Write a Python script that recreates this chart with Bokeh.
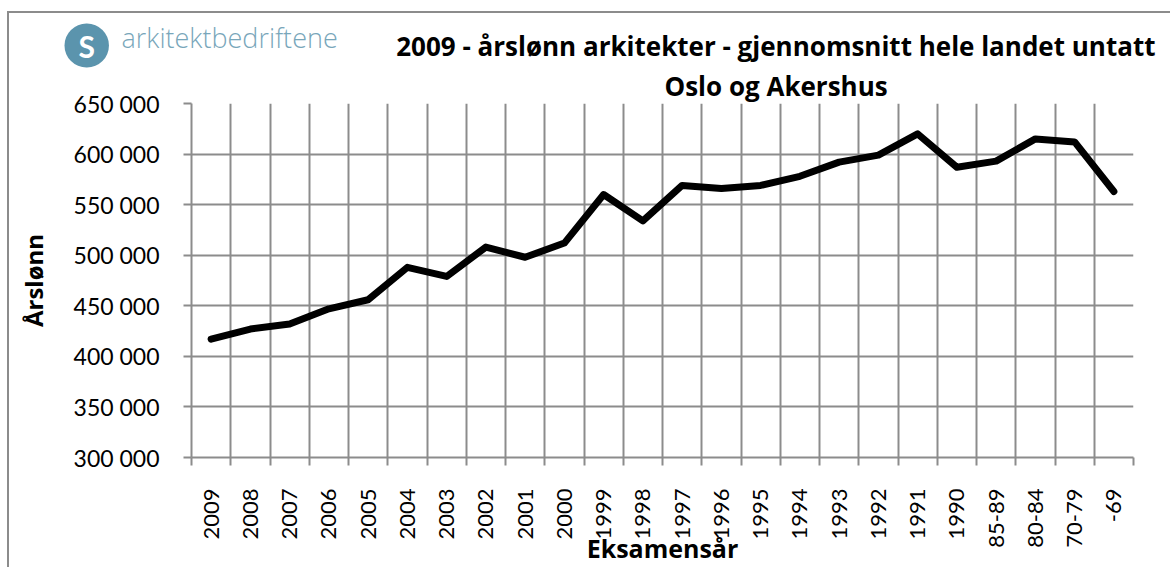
from math import pi
from bokeh.plotting import figure
from bokeh.models import Range1d, FixedTicker, Title, ColumnDataSource
from bokeh.embed import file_html
from bokeh.resources import INLINE

# ---- data ----
categories = ["2009", "2008", "2007", "2006", "2005", "2004", "2003", "2002", "2001", "2000",
              "1999", "1998", "1997", "1996", "1995", "1994", "1993", "1992", "1991", "1990",
              "85-89", "80-84", "70-79", "-69"]
salary = [417000, 427000, 432000, 447000, 456000, 488000, 479000, 508000, 498000, 512000,
          560000, 534000, 569000, 566000, 569000, 578000, 592000, 599000, 620000, 587000,
          593000, 615000, 612000, 563000]
y_ticks = [300000, 350000, 400000, 450000, 500000, 550000, 600000, 650000]
y_tick_labels = ["300 000", "350 000", "400 000", "450 000", "500 000", "550 000", "600 000", "650 000"]

title_line1 = "2009 - årslønn arkitekter - gjennomsnitt hele landet untatt"
title_line2 = "Oslo og Akershus"
x_title = "Eksamensår"
y_title = "Årslønn"
logo_text = "arkitektbedriftene"

W, H = 1170, 567
FONT = "Lato"
BOLD_FONT = "Open Sans"
GRID = "#8c8c8c"

n = len(categories)
xpos = [i + 0.5 for i in range(n)]
src = ColumnDataSource(dict(x=xpos, y=salary, cat=categories))

p = figure(width=W, height=H, output_backend="svg", toolbar_location=None,
           x_range=Range1d(0, n), y_range=Range1d(300000, 650000),
           min_border_left=191, min_border_right=37, min_border_top=103, min_border_bottom=110)
p.frame_width = 942
p.frame_height = 354
p.outline_line_color = None
p.background_fill_color = "white"
p.border_fill_alpha = 0
p.styles = {"background": "linear-gradient(#8c8c8c,#8c8c8c) 7px 11px / 2px 100% no-repeat, "
                          "linear-gradient(#8c8c8c,#8c8c8c) 7px 11px / 100% 2px no-repeat, white"}

p.line("x", "y", source=src, line_color="black", line_width=7,
       line_join="round", line_cap="round")

# x axis: labels at category centres, ticks at boundaries
xa = p.xaxis[0]
xa.ticker = FixedTicker(ticks=xpos, minor_ticks=list(range(n + 1)))
xa.major_label_overrides = {x: c for x, c in zip(xpos, categories)}
xa.major_label_orientation = pi / 2
xa.major_tick_out = 0
xa.major_tick_in = 0
xa.minor_tick_out = 8
xa.minor_tick_in = 0
xa.minor_tick_line_color = GRID
xa.minor_tick_line_width = 2
xa.axis_line_color = GRID
xa.axis_line_width = 2
xa.major_label_standoff = 23
xa.major_label_text_font = FONT
xa.major_label_text_font_size = "22px"
xa.major_label_text_color = "black"
xa.axis_label = x_title
xa.axis_label_text_font = BOLD_FONT
xa.axis_label_text_font_size = "25px"
xa.axis_label_text_font_style = "bold"
xa.axis_label_text_color = "black"
xa.axis_label_standoff = -20

ya = p.yaxis[0]
ya.ticker = FixedTicker(ticks=y_ticks)
ya.major_label_overrides = {v: t for v, t in zip(y_ticks, y_tick_labels)}
ya.major_tick_out = 8
ya.major_tick_in = 0
ya.major_tick_line_color = GRID
ya.major_tick_line_width = 2
ya.minor_tick_line_color = None
ya.axis_line_color = GRID
ya.axis_line_width = 2
ya.major_label_standoff = 24
ya.major_label_text_font = FONT
ya.major_label_text_font_size = "23px"
ya.major_label_text_color = "black"
ya.axis_label = y_title
ya.axis_label_text_font = BOLD_FONT
ya.axis_label_text_font_size = "24px"
ya.axis_label_text_font_style = "bold"
ya.axis_label_text_color = "black"
ya.axis_label_standoff = 21

p.xgrid.ticker = FixedTicker(ticks=list(range(n + 1)))
p.xgrid.grid_line_color = GRID
p.xgrid.grid_line_width = 2
p.ygrid.grid_line_color = GRID
p.ygrid.grid_line_width = 2

# ---- heading rows, stacked from the frame upwards ----
def heading(text, size, align, offset, standoff, pad, bold=True, color="black", font=BOLD_FONT, **kw):
    p.add_layout(Title(text=text, text_font=font, text_font_size=size,
                       text_font_style="bold" if bold else "normal", text_color=color,
                       align=align, offset=offset, vertical_align="middle",
                       standoff=standoff, padding=pad, **kw), "above")

heading(title_line2, "26px", "left", 473, -3, dict(left=0, right=0, top=22, bottom=0))
heading(title_line1, "26px", "right", -22, -37, 0)
heading("S", "30px", "left", -127, -46, (14, 4), color="white", font=FONT,
        background_fill_color="#5b94ad", border_radius=22)
heading(logo_text, "27px", "left", -70, -48, dict(left=0, right=0, top=0, bottom=13),
        bold=False, color="#78a6ba", font="Open Sans Light, Open Sans")

open("out.html", "w").write(file_html(p, INLINE))
